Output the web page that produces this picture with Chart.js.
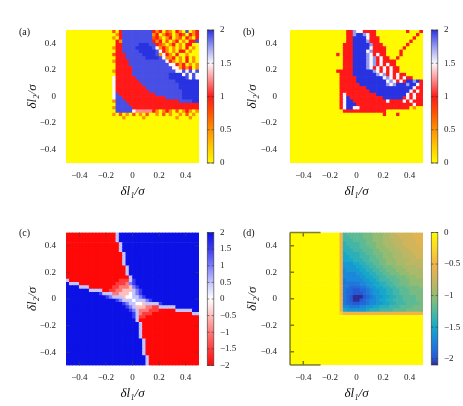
<!DOCTYPE html>
<html>
<head>
<meta charset="utf-8">
<title>Heat maps</title>
<script src="https://cdn.jsdelivr.net/npm/chart.js@4.4.1/dist/chart.umd.min.js"></script>
<style>
  html, body { margin: 0; padding: 0; background: #ffffff; }
  #page { position: relative; width: 463px; height: 406px; overflow: hidden; }
  #page canvas { position: absolute; left: 0; top: 0; }
  .tag { position: absolute; font: 10px 'Liberation Serif', 'DejaVu Serif', serif; line-height: 10px; color: #111; }
</style>
</head>
<body>
<div id="page">
  <canvas id="panelA" width="463" height="406"></canvas>
  <canvas id="panelB" width="463" height="406"></canvas>
  <canvas id="panelC" width="463" height="406"></canvas>
  <canvas id="panelD" width="463" height="406"></canvas>
  <div class="tag" style="left:19px;top:27px">(a)</div>
  <div class="tag" style="left:243px;top:27px">(b)</div>
  <div class="tag" style="left:19px;top:228px">(c)</div>
  <div class="tag" style="left:243px;top:228px">(d)</div>
</div>
<script>
// axes shared by the four maps
const axisMin = -0.5
const axisMax = 0.5
const cellCount = 40
const axisTicks = [-0.4, -0.2, 0, 0.2, 0.4]
const axisTickLabels = ['−0.4', '−0.2', '0', '0.2', '0.4']
const xTitle = 'δl₁/σ'
const yTitle = 'δl₂/σ'

// colour bar ticks
const cbTicksAB = [0, 0.5, 1, 1.5, 2]
const cbLabelsAB = ['0', '0.5', '1', '1.5', '2']
const cbTicksC = [-2, -1.5, -1, -0.5, 0, 0.5, 1, 1.5, 2]
const cbLabelsC = ['−2', '−1.5', '−1', '−0.5', '0', '0.5', '1', '1.5', '2']
const cbTicksD = [-2, -1.5, -1, -0.5, 0]
const cbLabelsD = ['−2', '−1.5', '−1', '−0.5', '0']

// one character per cell -> value
const levelKeysAB = '0123456789'
const levelValuesAB = [0, 0.25, 0.5, 0.75, 1, 1.25, 1.5, 1.75, 1.93, 2]
const levelKeysC = '012345678'
const levelValuesC = [-2, -1.5, -1, -0.5, 0, 0.5, 1, 1.5, 2]
const levelKeysD = 'abcdefghijklmnopqrstuv'
const levelValuesD = [0, -0.1, -0.2, -0.3, -0.4, -0.5, -0.6, -0.7, -0.8, -0.9, -1,
  -1.1, -1.2, -1.3, -1.4, -1.5, -1.6, -1.7, -1.8, -1.9, -2, -2.1]

// rows from top (dl2 = 0.5) to bottom, columns from dl1 = -0.5 to 0.5 (spaces are ignored)
const gridA = [
  '00000 00000 0000 304 88888 8888 42403 20420 8024',
  '00000 00000 0000 024 88888 8888 24024 30243 0424',
  '00000 00000 0000 204 88888 8888 34202 40230 4204',
  '00000 00000 0000 042 88888 8888 42403 02402 0448',
  '00000 00000 0000 044 88888 99988 43202 40204 400',
  '00000 00000 0000 244 88889 99998 62420 20204 020',
  '00000 00000 0000 044 88888 99999 8 64202 04402 00',
  '00000 00000 0000 3444 88888 99998 26420 40020 00',
  '00000 00000 0000 0444 88888 89999 8 62240 20402 0',
  '00000 00000 0000 24444 88888 88888 8 64202 04020',
  '00000 00000 0000 04444 88888 88888 88 66424 0202',
  '00000 00000 0000 04444 4 88888 88888 88 66242 402',
  '00000 00000 0000 24444 4 88888 88888 888 66868 68',
  '00000 00000 0000 04444 4 88888 88888 89999 68686',
  '00000 00000 0000 64444 44 88888 88888 99999 8 686',
  '00000 00000 0000 64444 444 88888 88888 8 99999 99',
  '00000 00000 0000 64444 4444 88888 88888 8 99999 9',
  '00000 00000 0000 64444 44444 88888 88888 99999 9',
  '00000 00000 0000 64444 44444 4 88888 88888 99999',
  '00000 00000 0000 68 44444 44444 4 88888 888 99999',
  '00000 00000 0000 688 44444 44444 444 88888 99999',
  '00000 00000 0000 2888 44444 44444 44444 4 888899',
  '00000 00000 0000 08888 44444 44444 44444 44444 4',
  '00000 00000 0000 28888 8 44444 44444 44444 44444',
  '00000 00000 0000 0 88888 6 55555 42024 20302 4202',
  '00000 00000 0000 2 03020 30203 00203 02002 03020',
  '00000 00000 0000 00020 00002 00000 00002 00020 0',
  '00000 00000 00000 00000 00000 00000 00000 00000',
  '00000 00000 00000 00000 00000 00000 00000 00000',
  '00000 00000 00000 00000 00000 00000 00000 00000',
  '00000 00000 00000 00000 00000 00000 00000 00000',
  '00000 00000 00000 00000 00000 00000 00000 00000',
  '00000 00000 00000 00000 00000 00000 00000 00000',
  '00000 00000 00000 00000 00000 00000 00000 00000',
  '00000 00000 00000 00000 00000 00000 00000 00000',
  '00000 00000 00000 00000 00000 00000 00000 00000',
  '00000 00000 00000 00000 00000 00000 00000 00000',
  '00000 00000 00000 00000 00000 00000 00000 00000',
  '00000 00000 00000 00000 00000 00000 00000 00000',
  '00000 00000 00000 00000 00000 00000 00000 00000'
]

const gridB = [
  '00000 00000 00000 00 44766 4444 00000 00004 0004',
  '00000 00000 00000 00 44799 7644 00000 00000 0040',
  '00000 00000 00000 00 44999 96444 00000 00000 400',
  '00000 00000 00000 00 44999 97444 00000 00004 000',
  '00000 00000 00000 0 44499 99974 44 00000 00400 00',
  '00000 00000 00000 0 44499 99964 444 00000 40000 0',
  '00000 00000 00000 0 44499 99674 444 00004 00000 0',
  '00000 00000 0000 40 44499 99764 644 00004 00000 0',
  '00000 00000 00000 0 44499 99767 4644 00400 00000',
  '00000 00000 00000 0 44499 99767 46444 40000 0000',
  '00000 00000 00000 0 44499 99767 46464 4 00000 000',
  '00000 00000 00000 0 44499 99764 64646 44 00000 00',
  '00000 00000 0000 4 4444 99999 9 76464 644 00000 00',
  '00000 00000 00000 4444 99999 99 76746 4644 00000',
  '00000 00000 00000 44444 99999 999 67646 4644 000',
  '00000 00000 00000 44444 99999 9999 67646 4 9979 4',
  '00000 00000 00000 44444 4 99999 99976 79997 99 64',
  '00000 00000 00000 44444 444 99999 99999 9999 644',
  '00000 00000 00000 44444 4444 99999 99999 99 6464',
  '00000 00000 00000 4 6 44444 4444 99999 9999 64644',
  '00000 00000 00000 4 69 44444 44444 99999 9 46464 4',
  '00000 00000 00000 4 699 44444 44444 64444 64644 4',
  '00000 00000 00000 4 6999 44444 44444 44444 44644',
  '00000 00000 00000 4 69966 44444 44444 4444 40200',
  '00000 00000 00000 0 44444 44444 444 00000 00000 0',
  '00000 00000 00000 00000 00000 000 4 000 4 00000 00',
  '00000 00000 00000 00000 00000 00000 00000 00000',
  '00000 00000 00000 00000 00000 00000 00000 00000',
  '00000 00000 00000 00000 00000 00000 00000 00000',
  '00000 00000 00000 00000 00000 00000 00000 00000',
  '00000 00000 00000 00000 00000 00000 00000 00000',
  '00000 00000 00000 00000 00000 00000 00000 00000',
  '00000 00000 00000 00000 00000 00000 00000 00000',
  '00000 00000 00000 00000 00000 00000 00000 00000',
  '00000 00000 00000 00000 00000 00000 00000 00000',
  '00000 00000 00000 00000 00000 00000 00000 00000',
  '00000 00000 00000 00000 00000 00000 00000 00000',
  '00000 00000 00000 00000 00000 00000 00000 00000',
  '00000 00000 00000 00000 00000 00000 00000 00000',
  '00000 00000 00000 00000 00000 00000 00000 00000'
]

const gridC = [
  '00000 00000 00000 5 88888 88888 88888 88888 8888',
  '00000 00000 00000 5 88888 88888 88888 88888 8888',
  '00000 00000 00000 5 88888 88888 88888 88888 8888',
  '00000 00000 00000 0 5 88888 88888 88888 88888 888',
  '00000 00000 00000 0 5 88888 88888 88888 88888 888',
  '00000 00000 00000 0 5 88888 88888 88888 88888 888',
  '00000 00000 00000 00 5 88888 88888 88888 88888 88',
  '00000 00000 00000 00 5 88888 88888 88888 88888 88',
  '00000 00000 00000 00 5 88888 88888 88888 88888 88',
  '00000 00000 00000 00 5 88888 88888 88888 88888 88',
  '00000 00000 00000 000 5 88888 88888 88888 88888 8',
  '00000 00000 00000 000 5 88888 88888 88888 88888 8',
  '00000 00000 00000 000 5 88888 88888 88888 88888 8',
  '00000 00000 00000 0000 5 88888 88888 88888 88888',
  '5 00000 00000 00000 111 5 7 88888 88888 88888 8888',
  '8 555 00000 00000 0 1112 6 7 88888 88888 88888 8888',
  '8888 555 00000 00 112223 6 7 88888 88888 88888 888',
  '88888 88 5555 00 1122333 567 88888 88888 88888 88',
  '88888 88888 7 555 223334 567 88888 88888 88888 88',
  '88888 88888 88 7 6 555 344 5567 88888 88888 88888 8',
  '88888 88888 88888 7 6 555 4 555 6 7 88888 88888 8888',
  '88888 88888 88888 88 7 6 55 443 5555 7 88888 88888 8',
  '88888 88888 88888 888 7 6 5 3332211 55555 88888 88',
  '88888 88888 88888 8888 7 6 5 22211 10000 0 55555 88',
  '88888 88888 88888 88888 7 5 2111 00000 00000 00 55',
  '88888 88888 88888 88888 7 5 11 00000 00000 00000 0',
  '88888 88888 88888 88888 8 5 00000 00000 00000 000',
  '88888 88888 88888 88888 88 5 00000 00000 00000 00',
  '88888 88888 88888 88888 88 5 00000 00000 00000 00',
  '88888 88888 88888 88888 88 5 00000 00000 00000 00',
  '88888 88888 88888 88888 88 5 00000 00000 00000 00',
  '88888 88888 88888 88888 88 5 00000 00000 00000 00',
  '88888 88888 88888 88888 888 5 00000 00000 00000 0',
  '88888 88888 88888 88888 888 5 00000 00000 00000 0',
  '88888 88888 88888 88888 888 5 00000 00000 00000 0',
  '88888 88888 88888 88888 888 5 00000 00000 00000 0',
  '88888 88888 88888 88888 888 5 00000 00000 00000 0',
  '88888 88888 88888 88888 8888 5 00000 00000 00000',
  '88888 88888 88888 88888 8888 5 00000 00000 00000',
  '88888 88888 88888 88888 8888 5 00000 00000 00000'
]

const gridD = [
  'aaaaa aaaaa aaaa a f nmmmmmlllkkkjjiihhhhhggg',
  'aaaaa aaaaa aaaa a f nnmmmmlllkkkjjiiihhhhggg',
  'aaaaa aaaaa aaaa a f nnnmmmmllkkkjjjiiihhhhgg',
  'aaaaa aaaaa aaaa a f onnnnmmlllkkjjjiiihhhhgg',
  'aaaaa aaaaa aaaa a f oonnnmmmllkkkjjjiiihhhhg',
  'aaaaa aaaaa aaaa a f ooonnnmmmllkkkjjjiiihhhh',
  'aaaaa aaaaa aaaa a f poooonnmmlllkkkjjjiiihhh',
  'aaaaa aaaaa aaaa a f ppooonnnmmllkkkjjjiiiihh',
  'aaaaa aaaaa aaaa a f pppooonnmmmllkkkjjjjiiii',
  'aaaaa aaaaa aaaa a f qqqppoonnmmllkkkjjjiiiii',
  'aaaaa aaaaa aaaa a f qqqqppoonnmmlllkkkjjjjii',
  'aaaaa aaaaa aaaa a f rqqqqppoonnmmlllkkkjjjjj',
  'aaaaa aaaaa aaaa a f rrrrqqppoonnmmlllkkkjjjj',
  'aaaaa aaaaa aaaa a f rrrrrqqppoonnmmmlllkkkjj',
  'aaaaa aaaaa aaaa a f srrrrrqqpponnnmmmlllkkkk',
  'aaaaa aaaaa aaaa a f sssssrrqqppoonnmmlllkkkk',
  'aaaaa aaaaa aaaa a f sstttssrqqppoonnmmmllllk',
  'aaaaa aaaaa aaaa a f sttuuttsrqqppoonnmmmllll',
  'aaaaa aaaaa aaaa a f sttuuutsrqqppoonnmmmllll',
  'aaaaa aaaaa aaaa a f stuvvvutsrqqppoonnmmmmll',
  'aaaaa aaaaa aaaa a f stuvvutsrrqppoonnnmmmmll',
  'aaaaa aaaaa aaaa a f sttuuttsrrqqppoonnnmmmml',
  'aaaaa aaaaa aaaa a f rrsssrrqqppooonnnmmmmlll',
  'aaaaa aaaaa aaaa a f pqqqqqqpooonnnnmmmmlllll',
  'aaaaa aaaaa aaaa a d fffff fffff fffff fffff ffff',
  'aaaaa aaaaa aaaaa aaaaa aaaaa aaaaa aaaaa aaaaa',
  'aaaaa aaaaa aaaaa aaaaa aaaaa aaaaa aaaaa aaaaa',
  'aaaaa aaaaa aaaaa aaaaa aaaaa aaaaa aaaaa aaaaa',
  'aaaaa aaaaa aaaaa aaaaa aaaaa aaaaa aaaaa aaaaa',
  'aaaaa aaaaa aaaaa aaaaa aaaaa aaaaa aaaaa aaaaa',
  'aaaaa aaaaa aaaaa aaaaa aaaaa aaaaa aaaaa aaaaa',
  'aaaaa aaaaa aaaaa aaaaa aaaaa aaaaa aaaaa aaaaa',
  'aaaaa aaaaa aaaaa aaaaa aaaaa aaaaa aaaaa aaaaa',
  'aaaaa aaaaa aaaaa aaaaa aaaaa aaaaa aaaaa aaaaa',
  'aaaaa aaaaa aaaaa aaaaa aaaaa aaaaa aaaaa aaaaa',
  'aaaaa aaaaa aaaaa aaaaa aaaaa aaaaa aaaaa aaaaa',
  'aaaaa aaaaa aaaaa aaaaa aaaaa aaaaa aaaaa aaaaa',
  'aaaaa aaaaa aaaaa aaaaa aaaaa aaaaa aaaaa aaaaa',
  'aaaaa aaaaa aaaaa aaaaa aaaaa aaaaa aaaaa aaaaa',
  'aaaaa aaaaa aaaaa aaaaa aaaaa aaaaa aaaaa aaaaa'
]

// colour palettes: [value, [r, g, b]]
const paletteAB = [
  [0, [255, 250, 0]], [0.25, [255, 200, 0]], [0.5, [255, 145, 0]], [0.75, [255, 85, 0]],
  [1, [255, 25, 25]], [1.25, [255, 140, 140]], [1.5, [250, 248, 252]], [1.75, [150, 155, 240]],
  [2, [40, 50, 225]]
]
const paletteC = [
  [-2, [255, 8, 8]], [-1.5, [255, 60, 60]], [-1, [255, 120, 120]], [-0.5, [255, 190, 190]],
  [0, [255, 255, 255]], [0.5, [195, 195, 255]], [1, [125, 125, 250]], [1.5, [60, 60, 240]],
  [2, [12, 18, 230]]
]
const paletteD = [
  [-2.1, [45, 45, 150]], [-2, [38, 88, 212]], [-1.75, [28, 128, 222]], [-1.5, [22, 168, 202]],
  [-1.25, [78, 186, 158]], [-1, [148, 188, 112]], [-0.75, [202, 180, 96]], [-0.5, [240, 180, 72]],
  [-0.25, [250, 215, 40]], [0, [255, 250, 0]]
]

const FONT = "'Liberation Serif', 'DejaVu Serif', serif"
const tickFont = { family: FONT, size: 9 }
const titleFont = { family: FONT, size: 13, style: 'italic' }
const Y_W = 48
const X_H = 40
const CB_W = 40
const cellStep = (axisMax - axisMin) / cellCount

Chart.defaults.font.family = FONT

function paletteColor(palette, v) {
  if (v <= palette[0][0]) return 'rgb(' + palette[0][1].join(',') + ')'
  for (let k = 1; k < palette.length; k++) {
    const [v1, c1] = palette[k]
    if (v <= v1) {
      const [v0, c0] = palette[k - 1]
      const t = (v - v0) / (v1 - v0)
      return 'rgb(' + c0.map((c, n) => Math.round(c + (c1[n] - c) * t)).join(',') + ')'
    }
  }
  return 'rgb(' + palette[palette.length - 1][1].join(',') + ')'
}

function buildCells(grid, keys, values, palette) {
  const points = []
  const colors = []
  grid.forEach((row, i) => {
    const codes = row.replace(/ /g, '').padEnd(cellCount, keys[0]).slice(0, cellCount)
    for (let j = 0; j < cellCount; j++) {
      const v = values[Math.max(0, keys.indexOf(codes[j]))]
      points.push({ x: axisMin + cellStep * (j + 0.5), y: axisMax - cellStep * (i + 0.5) })
      colors.push(paletteColor(palette, v))
    }
  })
  return { points, colors }
}

function cellRadius(chart) {
  const sx = chart.scales.x
  const px = Math.abs(sx.getPixelForValue(cellStep) - sx.getPixelForValue(0))
  return (px + 0.7) / Math.SQRT2
}

// colour bar + frame ticks, drawn with the chart's own scales
function makeDecor(p) {
  return {
    id: 'decor',
    afterDraw(chart) {
      const { ctx, chartArea: a, scales } = chart
      const cb = scales.cb
      const x0 = a.right + 8.3
      const w = 6.5
      const yTop = cb.getPixelForValue(cb.max)
      const yBot = cb.getPixelForValue(cb.min)
      ctx.save()
      const grad = ctx.createLinearGradient(0, yBot, 0, yTop)
      p.palette.forEach(([v, c]) => {
        grad.addColorStop((v - cb.min) / (cb.max - cb.min), 'rgb(' + c.join(',') + ')')
      })
      ctx.fillStyle = grad
      ctx.fillRect(x0, yTop, w, yBot - yTop)
      ctx.strokeStyle = 'rgba(50,50,50,0.75)'
      ctx.lineWidth = 0.8
      ctx.strokeRect(x0, yTop, w, yBot - yTop)
      ctx.beginPath()
      cb.ticks.forEach(t => {
        const y = cb.getPixelForValue(t.value)
        ctx.moveTo(x0, y); ctx.lineTo(x0 + 2.2, y)
        ctx.moveTo(x0 + w - 2.2, y); ctx.lineTo(x0 + w, y)
      })
      ctx.stroke()

      const f = p.frame
      if (f) {
        const sx = scales.x
        const sy = scales.y
        ctx.strokeStyle = f.color
        ctx.lineWidth = f.width
        ctx.beginPath()
        if (f.edgeStop !== null) {
          const xe = sx.getPixelForValue(f.edgeStop)
          ctx.moveTo(a.left, a.top); ctx.lineTo(a.left, a.bottom)
          ctx.moveTo(a.left, a.top); ctx.lineTo(xe, a.top)
          ctx.moveTo(a.left, a.bottom); ctx.lineTo(xe, a.bottom)
        }
        f.topBottom.forEach(v => {
          const px = sx.getPixelForValue(v)
          ctx.moveTo(px, a.top); ctx.lineTo(px, a.top + f.len)
          ctx.moveTo(px, a.bottom); ctx.lineTo(px, a.bottom - f.len)
        })
        f.left.forEach(v => {
          const py = sy.getPixelForValue(v)
          ctx.moveTo(a.left, py); ctx.lineTo(a.left + f.len, py)
        })
        f.right.forEach(v => {
          const py = sy.getPixelForValue(v)
          ctx.moveTo(a.right, py); ctx.lineTo(a.right - f.len, py)
        })
        ctx.stroke()
      }
      ctx.restore()
    }
  }
}

const panels = [
  {
    canvas: 'panelA', grid: gridA, keys: levelKeysAB, values: levelValuesAB, palette: paletteAB,
    cbMin: 0, cbMax: 2, cbTicks: cbTicksAB, cbLabels: cbLabelsAB,
    area: { left: 66, top: 30, right: 199, bottom: 163 }, yTickGap: 10, yTitleGap: 33.5, frame: null
  },
  {
    canvas: 'panelB', grid: gridB, keys: levelKeysAB, values: levelValuesAB, palette: paletteAB,
    cbMin: 0, cbMax: 2, cbTicks: cbTicksAB, cbLabels: cbLabelsAB,
    area: { left: 290, top: 30, right: 423, bottom: 163 }, yTickGap: 13, yTitleGap: 37, frame: null
  },
  {
    canvas: 'panelC', grid: gridC, keys: levelKeysC, values: levelValuesC, palette: paletteC,
    cbMin: -2, cbMax: 2, cbTicks: cbTicksC, cbLabels: cbLabelsC,
    area: { left: 66, top: 232.5, right: 199, bottom: 365.5 }, yTickGap: 10, yTitleGap: 33.5,
    frame: { color: 'rgba(70,70,70,0.55)', width: 1, len: 4, edgeStop: null,
      topBottom: axisTicks, left: axisTicks, right: axisTicks }
  },
  {
    canvas: 'panelD', grid: gridD, keys: levelKeysD, values: levelValuesD, palette: paletteD,
    cbMin: -2.1, cbMax: 0, cbTicks: cbTicksD, cbLabels: cbLabelsD,
    area: { left: 290, top: 232.5, right: 423, bottom: 365 }, yTickGap: 13, yTitleGap: 37,
    frame: { color: 'rgba(40,40,0,0.6)', width: 1.5, len: 4, edgeStop: -0.27,
      topBottom: axisTicks.filter(v => v < -0.27), left: axisTicks, right: [] }
  }
]

panels.forEach(p => {
  const cells = buildCells(p.grid, p.keys, p.values, p.palette)
  const W = 463
  const H = 406
  new Chart(document.getElementById(p.canvas), {
    type: 'scatter',
    data: {
      datasets: [{
        data: cells.points,
        pointBackgroundColor: cells.colors,
        pointBorderWidth: 0,
        pointStyle: 'rect',
        pointRadius: ctx => cellRadius(ctx.chart),
        clip: 0
      }]
    },
    options: {
      responsive: false,
      animation: false,
      events: [],
      devicePixelRatio: 1,
      layout: {
        padding: {
          left: p.area.left - Y_W,
          top: p.area.top,
          right: W - p.area.right - CB_W,
          bottom: H - p.area.bottom - X_H
        }
      },
      plugins: { legend: { display: false }, tooltip: { enabled: false } },
      scales: {
        x: {
          type: 'linear', min: axisMin, max: axisMax,
          grid: { display: false, drawTicks: false }, border: { display: false },
          afterBuildTicks: s => { s.ticks = axisTicks.map(v => ({ value: v })) },
          afterFit: s => { s.height = X_H },
          ticks: { autoSkip: false, maxRotation: 0, minRotation: 0, padding: 7, color: '#222',
            font: tickFont, callback: (v, i) => axisTickLabels[i] },
          title: { display: true, text: xTitle, color: '#111', font: titleFont, padding: { top: 0, bottom: 4 } }
        },
        y: {
          type: 'linear', min: axisMin, max: axisMax,
          grid: { display: false, drawTicks: false }, border: { display: false },
          afterBuildTicks: s => { s.ticks = axisTicks.map(v => ({ value: v })) },
          afterFit: s => { s.width = Y_W },
          ticks: { autoSkip: false, padding: p.yTickGap, color: '#222', font: tickFont,
            callback: (v, i) => axisTickLabels[i] },
          title: { display: true, text: yTitle, color: '#111', font: titleFont,
            padding: { top: Y_W - p.yTitleGap - titleFont.size * 0.6, bottom: 0 } }
        },
        cb: {
          type: 'linear', axis: 'y', position: 'right', min: p.cbMin, max: p.cbMax,
          grid: { display: false, drawTicks: false }, border: { display: false },
          afterBuildTicks: s => { s.ticks = p.cbTicks.map(v => ({ value: v })) },
          afterFit: s => { s.width = CB_W },
          ticks: { autoSkip: false, padding: 21, color: '#222', font: tickFont,
            callback: (v, i) => p.cbLabels[i] }
        }
      }
    },
    plugins: [makeDecor(p)]
  })
})
</script>
</body>
</html>
